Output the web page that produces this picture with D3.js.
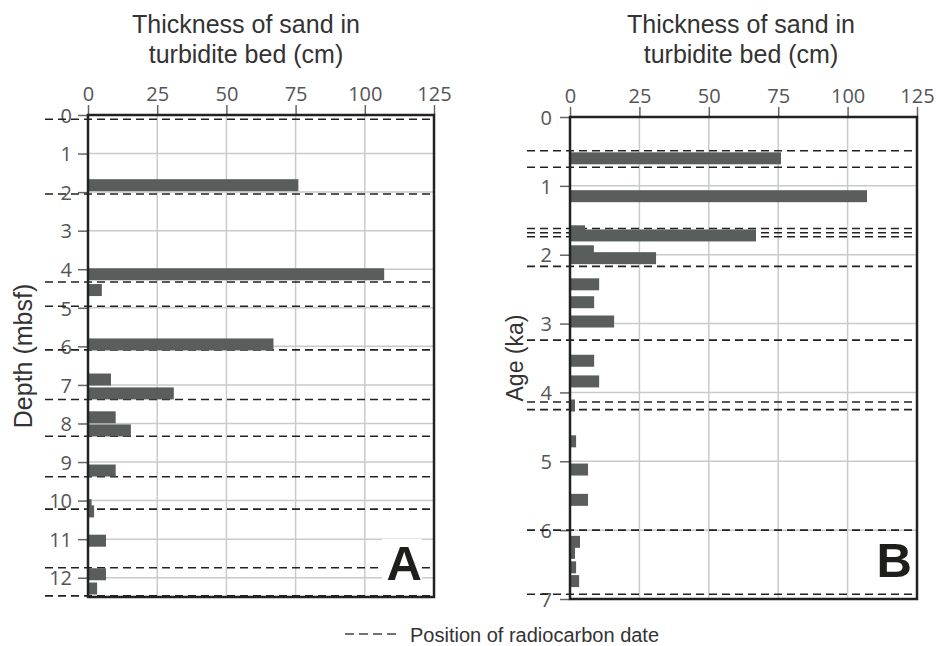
<!DOCTYPE html>
<html>
<head>
<meta charset="utf-8">
<script src="https://cdn.jsdelivr.net/npm/d3@7"></script>
<style>
  body { margin: 0; background: #fff; }
  svg { display: block; }
  .tick text { font-family: "Open Sans", sans-serif; font-size: 20px; fill: #555; }
  .title { font-family: "Liberation Sans", Arial, sans-serif; fill: #333; }
</style>
</head>
<body>
<svg id="chart" width="936" height="646"></svg>
<script>
// x axis (both panels)
var thicknessTicks = [0, 25, 50, 75, 100, 125];

// panel A - depth
var depthTicks = [0, 1, 2, 3, 4, 5, 6, 7, 8, 9, 10, 11, 12];
var depthBeds = [1.82, 4.13, 4.54, 5.95, 6.86, 7.22, 7.84, 8.18, 9.22, 10.12, 10.28, 11.04, 11.91, 12.28];
var depthSand = [76, 107, 5, 67, 8.3, 31, 10, 15.5, 10, 1.3, 2.2, 6.5, 6.5, 3.3];
var depthDates = [0.11, 2.05, 4.33, 4.96, 6.09, 7.38, 8.33, 9.38, 10.22, 11.74, 12.47];

// panel B - age
var ageTicks = [0, 1, 2, 3, 4, 5, 6, 7];
var ageBeds = [0.60, 1.15, 1.66, 1.72, 1.95, 2.05, 2.43, 2.69, 2.97, 3.54, 3.84, 4.19, 4.71, 5.12, 5.56, 6.17, 6.33, 6.54, 6.74];
var ageSand = [76, 107, 5.4, 67, 8.6, 31, 10.5, 8.7, 15.9, 8.7, 10.5, 1.8, 2.2, 6.5, 6.5, 3.6, 1.8, 2.2, 3.3];
var ageDates = [0.49, 0.73, 1.62, 1.68, 1.74, 2.17, 3.24, 4.14, 4.25, 6.0, 6.93];

var svg = d3.select("#chart");

function drawPanel(p) {
    var x = d3.scaleLinear().domain([0, 125]).range([p.left, p.right]);
    var y = d3.scaleLinear().domain(p.yDomain).range([p.top, p.bottom]);
    var g = svg.append("g");

    // grid
    g.append("g").selectAll("line.vg")
        .data(thicknessTicks.slice(1, -1))
        .enter().append("line")
            .attr("x1", function(d) { return x(d); })
            .attr("x2", function(d) { return x(d); })
            .attr("y1", p.top).attr("y2", p.bottom)
            .attr("stroke", "#c8cbca").attr("stroke-width", 1.5);
    g.append("g").selectAll("line.hg")
        .data(p.yTicks.filter(function(d) { return d > p.yDomain[0] && d < p.yDomain[1]; }))
        .enter().append("line")
            .attr("x1", p.left).attr("x2", p.right)
            .attr("y1", function(d) { return y(d); })
            .attr("y2", function(d) { return y(d); })
            .attr("stroke", "#c8cbca").attr("stroke-width", 1.5);

    // axes
    var xAxis = g.append("g")
        .attr("transform", "translate(0," + p.top + ")")
        .call(d3.axisTop(x).tickValues(thicknessTicks).tickSize(10).tickPadding(4).tickFormat(d3.format("d")));
    var yAxis = g.append("g")
        .attr("transform", "translate(" + p.left + ",0)")
        .call(d3.axisLeft(y).tickValues(p.yTicks).tickSize(10).tickPadding(p.labelPad).tickFormat(d3.format("d")));
    [xAxis, yAxis].forEach(function(a) {
        a.select(".domain").remove();
        a.selectAll(".tick line").attr("stroke", "#666").attr("stroke-width", 1.5);
    });
    yAxis.selectAll(".tick text").attr("dy", "0.36em");

    // radiocarbon dates
    g.append("g").selectAll("line")
        .data(p.dates)
        .enter().append("line")
            .attr("x1", p.left - 43).attr("x2", p.right)
            .attr("y1", function(d) { return y(d); })
            .attr("y2", function(d) { return y(d); })
            .attr("stroke", "#222").attr("stroke-width", 1.6)
            .attr("stroke-dasharray", "8,5");

    // bars
    g.append("g").selectAll("rect")
        .data(p.beds)
        .enter().append("rect")
            .attr("x", x(0))
            .attr("y", function(d) { return y(d) - 6; })
            .attr("width", function(d, i) { return x(p.sand[i]) - x(0); })
            .attr("height", 12)
            .attr("fill", "#595e5c");

    // frame
    g.append("rect")
        .attr("x", p.left).attr("y", p.top)
        .attr("width", p.right - p.left).attr("height", p.bottom - p.top)
        .attr("fill", "none").attr("stroke", "#222").attr("stroke-width", 2.5);

    // titles
    var cx = p.titleX;
    g.append("text").attr("class", "title")
        .attr("x", cx).attr("y", 33).attr("text-anchor", "middle")
        .style("font-size", "25px").text("Thickness of sand in");
    g.append("text").attr("class", "title")
        .attr("x", cx).attr("y", 63).attr("text-anchor", "middle")
        .style("font-size", "25px").text("turbidite bed (cm)");
    g.append("text").attr("class", "title")
        .attr("transform", "translate(" + p.yTitleX + "," + ((p.top + p.bottom) / 2) + ") rotate(-90)")
        .attr("text-anchor", "middle")
        .style("font-size", p.yTitleSize).text(p.yTitle);

    // panel letter
    if (p.letterBox) {
        g.append("rect")
            .attr("x", p.right - 52).attr("y", p.bottom - 58)
            .attr("width", 40).attr("height", 42)
            .attr("fill", "#fff");
    }
    g.append("text")
        .attr("x", p.right - p.letterInset).attr("y", p.bottom - p.letterBase)
        .attr("text-anchor", "end")
        .style("font-family", "'Liberation Sans', Arial, sans-serif")
        .style("font-weight", "bold").style("font-size", "49px")
        .attr("fill", "#1e1e1a").text(p.letter);
}

drawPanel({
    left: 88, right: 434, top: 115, bottom: 597,
    yDomain: [0, 12.5], yTicks: depthTicks, labelPad: 6,
    beds: depthBeds, sand: depthSand, dates: depthDates,
    titleX: 246, yTitle: "Depth (mbsf)", yTitleX: 32, yTitleSize: "25px",
    letter: "A", letterInset: 12, letterBase: 17, letterBox: true
});

drawPanel({
    left: 570, right: 917, top: 117, bottom: 599,
    yDomain: [0, 7], yTicks: ageTicks, labelPad: 8,
    beds: ageBeds, sand: ageSand, dates: ageDates,
    titleX: 741, yTitle: "Age (ka)", yTitleX: 523, yTitleSize: "23px",
    letter: "B", letterInset: 5, letterBase: 22, letterBox: false
});

// legend
var legend = svg.append("g");
legend.append("line")
    .attr("x1", 345).attr("x2", 400).attr("y1", 634).attr("y2", 634)
    .attr("stroke", "#444").attr("stroke-width", 1.3)
    .attr("stroke-dasharray", "9,5");
legend.append("text").attr("class", "title")
    .attr("x", 410).attr("y", 642)
    .style("font-size", "20px").text("Position of radiocarbon date");
</script>
</body>
</html>
